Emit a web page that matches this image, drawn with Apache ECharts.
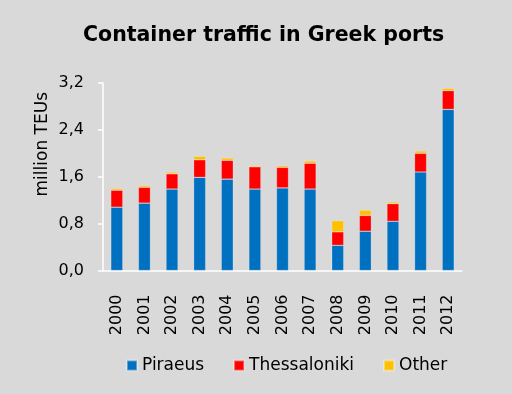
<!DOCTYPE html>
<html><head><meta charset="utf-8">
<script src="https://cdn.jsdelivr.net/npm/echarts@6/dist/echarts.min.js"></script>
<style>html,body{margin:0;padding:0;background:#d9d9d9}#c{width:512px;height:394px}</style>
</head><body><div id="c"></div>
<script>
const years = ['2000','2001','2002','2003','2004','2005','2006','2007','2008','2009','2010','2011','2012'];
const piraeus = [1.08,1.15,1.39,1.59,1.56,1.39,1.41,1.39,0.43,0.67,0.84,1.68,2.75];
const thessaloniki = [0.29,0.27,0.26,0.30,0.32,0.38,0.35,0.44,0.23,0.27,0.30,0.32,0.32];
const other = [0.03,0.03,0.03,0.06,0.04,0.02,0.03,0.04,0.19,0.09,0.03,0.04,0.04];
const yTicks = ['0,0','0,8','1,6','2,4','3,2'];

const font = 'DejaVu Sans';
const chart = echarts.init(document.getElementById('c'));
function s(name, data, color){
  return {name, type:'bar', stack:'t', data, barWidth:12,
    itemStyle:{color, borderColor:'rgba(255,255,255,0.35)', borderWidth:0.6}};
}
chart.setOption({
  backgroundColor:'#d9d9d9',
  animation:false,
  title:{text:'Container traffic in Greek ports', left:78, top:20,
    textStyle:{fontFamily:font, fontWeight:'bold', fontSize:20.5, color:'#000'}},
  grid:{left:103, right:50, top:83, bottom:123.5},
  legend:{bottom:15, left:121, itemWidth:10, itemHeight:10, itemGap:29, icon:'rect',
    textStyle:{fontFamily:font, fontSize:17, color:'#000'}},
  xAxis:{type:'category', data:years,
    axisLine:{lineStyle:{color:'#fff', width:1.5}},
    axisTick:{lineStyle:{color:'#fff', width:1.5}, length:6},
    axisLabel:{rotate:90, fontFamily:font, fontSize:16, color:'#000', margin:24}},
  yAxis:{type:'value', min:0, max:3.2, interval:0.8,
    axisLine:{show:true, lineStyle:{color:'#fff', width:1.5}},
    axisTick:{show:true, inside:false, length:5, lineStyle:{color:'#fff', width:1.5}},
    splitLine:{show:false},
    axisLabel:{fontFamily:font, fontSize:16, color:'#000', margin:19,
      formatter:(v)=>yTicks[Math.round(v/0.8)]}},
  graphic:[{type:'text', left:34, top:92, rotation:Math.PI/2,
    style:{text:'million TEUs', fontFamily:font, fontSize:17, fill:'#000'}}],
  series:[s('Piraeus',piraeus,'#0070c0'), s('Thessaloniki',thessaloniki,'#ff0000'), s('Other',other,'#ffc000')]
});
</script></body></html>
